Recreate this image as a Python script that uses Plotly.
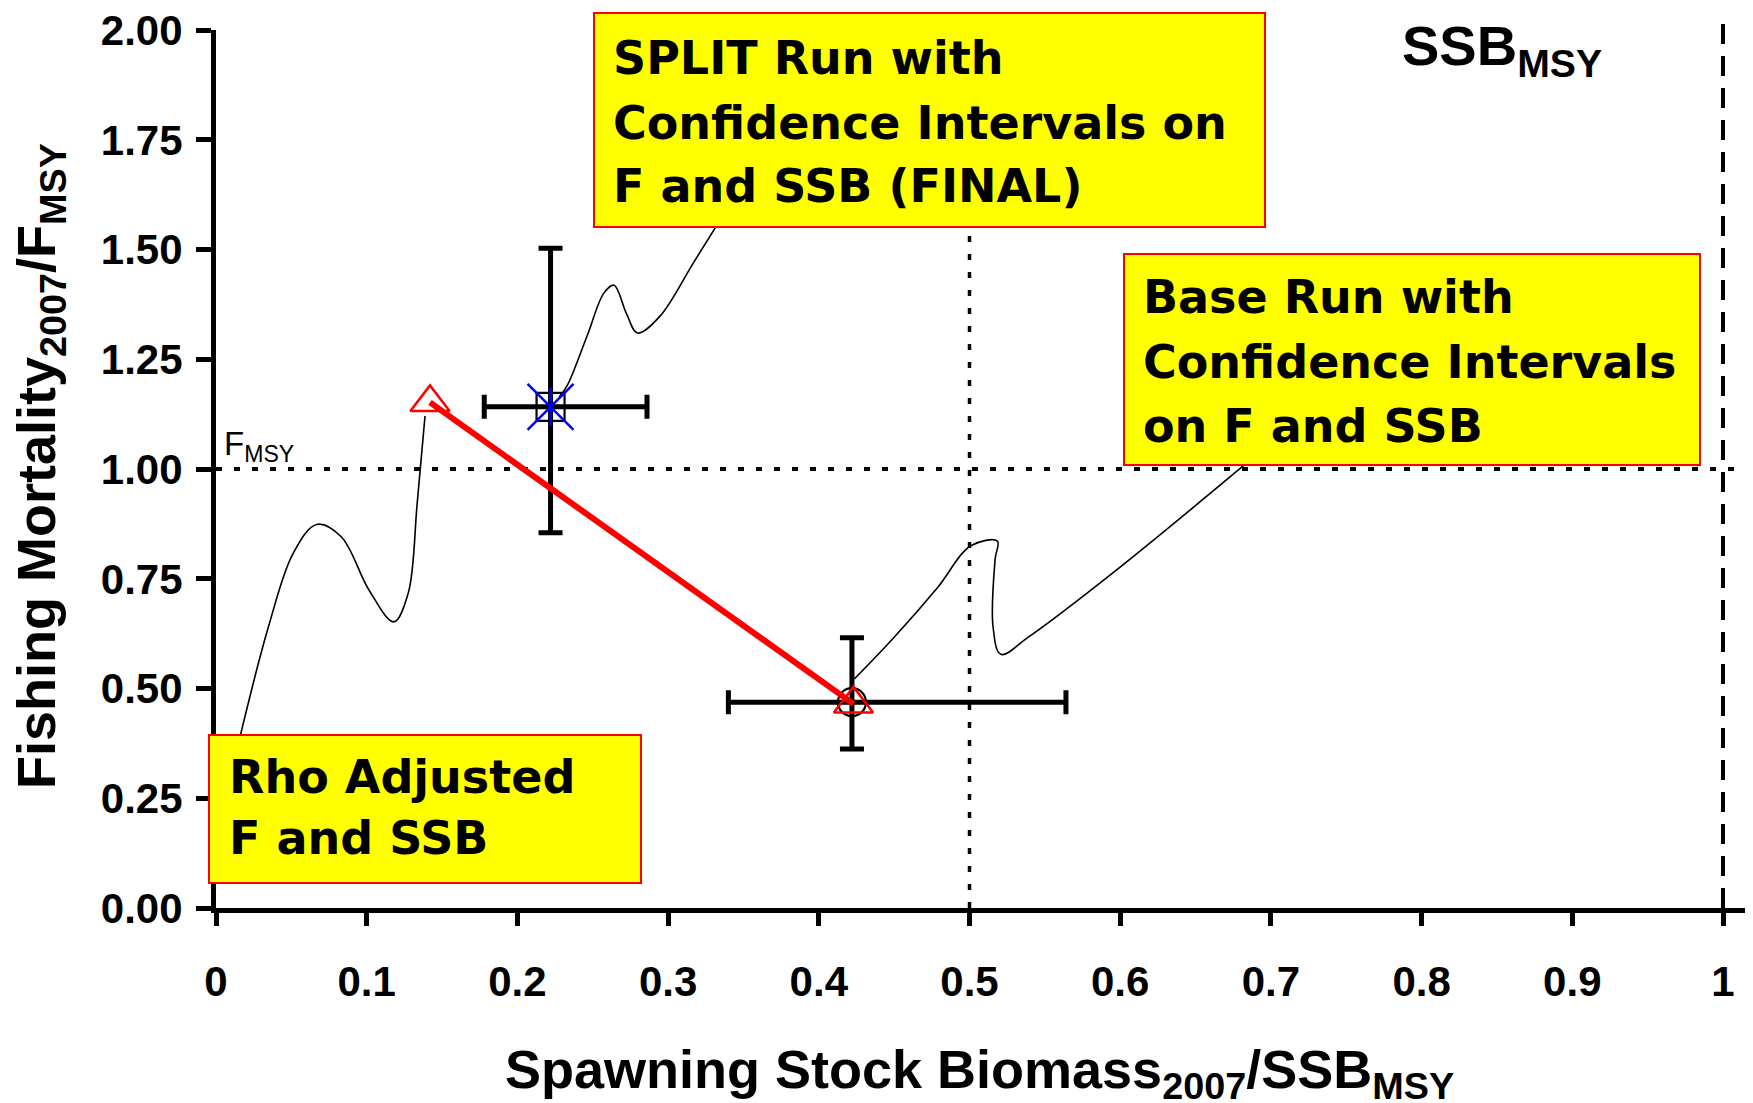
import plotly.graph_objects as go

# ---------------- data ----------------
x_ticks = [0, 0.1, 0.2, 0.3, 0.4, 0.5, 0.6, 0.7, 0.8, 0.9, 1.0]
x_tick_labels = ["0", "0.1", "0.2", "0.3", "0.4", "0.5", "0.6", "0.7", "0.8", "0.9", "1"]
y_ticks = [0, 0.25, 0.5, 0.75, 1.0, 1.25, 1.5, 1.75, 2.0]
y_tick_labels = ["0.00", "0.25", "0.50", "0.75", "1.00", "1.25", "1.50", "1.75", "2.00"]

# Base run with confidence intervals
base_ssb = [0.422]
base_ssb_lo = [0.340]
base_ssb_hi = [0.564]
base_f = [0.469]
base_f_lo = [0.362]
base_f_hi = [0.616]

# SPLIT run with confidence intervals (FINAL)
split_ssb = [0.222]
split_ssb_lo = [0.178]
split_ssb_hi = [0.286]
split_f = [1.142]
split_f_lo = [0.855]
split_f_hi = [1.503]

# Rho adjusted F and SSB
rho_ssb = [0.142, 0.423]
rho_f = [1.152, 0.465]

# reference levels
f_msy_level = 1.0
ssb_half_level = 0.5
ssb_msy_level = 1.0

# hand-drawn callout leader lines (data coordinates)
leader_rho_x = [0.0163, 0.0349, 0.0512, 0.0668, 0.0831, 0.1016, 0.1180, 0.1276, 0.1335, 0.1387]
leader_rho_y = [0.395, 0.642, 0.808, 0.874, 0.846, 0.724, 0.652, 0.718, 0.922, 1.121]
leader_split_x = [0.3353, 0.3168, 0.2945, 0.2797, 0.2723, 0.2641, 0.2574, 0.2463, 0.2330, 0.2277]
leader_split_y = [1.572, 1.470, 1.348, 1.310, 1.355, 1.419, 1.401, 1.304, 1.190, 1.164]
leader_base_x = [0.684, 0.5964, 0.539, 0.5208, 0.5156, 0.517, 0.5185, 0.5007, 0.479, 0.450, 0.4236]
leader_base_y = [1.014, 0.767, 0.617, 0.578, 0.642, 0.795, 0.836, 0.825, 0.731, 0.617, 0.522]

# ---------------- layout geometry ----------------
OFF = 8                      # page body margin
W, H = 1753 - 2 * OFF, 1103 - OFF
ML, MT, MR = 216 - OFF, 30 - OFF, 0
MB = H - (908 - OFF)
PLOT_W = W - ML - MR
PLOT_H = H - MT - MB
X_MAX = PLOT_W / (1723 - 216)
Y_MAX = 2.0005


def px_x(px):
    """screen pixel -> paper x"""
    return (px - OFF - ML) / PLOT_W


def px_y(py):
    """screen pixel -> paper y"""
    return (H - MB - (py - OFF)) / PLOT_H


AX_FONT = "Liberation Sans, Arial, sans-serif"
BOX_FONT = "DejaVu Sans, Comic Sans MS, sans-serif"

fig = go.Figure()

# leader lines
for lx, ly in [(leader_rho_x, leader_rho_y), (leader_split_x, leader_split_y), (leader_base_x, leader_base_y)]:
    fig.add_trace(go.Scatter(x=lx, y=ly, mode="lines",
                             line=dict(color="black", width=1.6, shape="spline", smoothing=1.0),
                             hoverinfo="skip", showlegend=False))

# base run
fig.add_trace(go.Scatter(
    x=base_ssb, y=base_f, mode="markers",
    marker=dict(symbol="circle-open", size=28, color="black", line=dict(width=2.2, color="black")),
    error_x=dict(type="data", symmetric=False,
                 array=[h - v for h, v in zip(base_ssb_hi, base_ssb)],
                 arrayminus=[v - l for l, v in zip(base_ssb_lo, base_ssb)],
                 color="black", thickness=5, width=12),
    error_y=dict(type="data", symmetric=False,
                 array=[h - v for h, v in zip(base_f_hi, base_f)],
                 arrayminus=[v - l for l, v in zip(base_f_lo, base_f)],
                 color="black", thickness=5, width=12),
    showlegend=False))

# split run
fig.add_trace(go.Scatter(
    x=split_ssb, y=split_f, mode="markers",
    marker=dict(symbol="square-open", size=28, color="black", line=dict(width=2.2, color="black")),
    error_x=dict(type="data", symmetric=False,
                 array=[h - v for h, v in zip(split_ssb_hi, split_ssb)],
                 arrayminus=[v - l for l, v in zip(split_ssb_lo, split_ssb)],
                 color="black", thickness=5, width=12),
    error_y=dict(type="data", symmetric=False,
                 array=[h - v for h, v in zip(split_f_hi, split_f)],
                 arrayminus=[v - l for l, v in zip(split_f_lo, split_f)],
                 color="black", thickness=5, width=12),
    showlegend=False))

# rho adjusted line + triangles
fig.add_trace(go.Scatter(x=rho_ssb, y=rho_f, mode="lines",
                         line=dict(color="#FF0000", width=6), showlegend=False))
fig.add_trace(go.Scatter(x=rho_ssb, y=rho_f, mode="markers",
                         marker=dict(symbol="triangle-up-open", size=34, color="#FF0000",
                                     line=dict(width=2.5, color="#FF0000")),
                         showlegend=False))

# split asterisk (blue)
fig.add_trace(go.Scatter(x=split_ssb, y=split_f, mode="markers",
                         marker=dict(symbol="x-thin-open", size=46, color="#0000FF",
                                     line=dict(width=2.5, color="#0000FF")),
                         showlegend=False))
fig.add_trace(go.Scatter(x=split_ssb, y=split_f, mode="markers",
                         marker=dict(symbol="line-ns-open", size=27, color="#0000FF",
                                     line=dict(width=2.5, color="#0000FF")),
                         showlegend=False))

shapes = [
    dict(type="line", xref="x", yref="y", x0=0, x1=X_MAX, y0=f_msy_level, y1=f_msy_level,
         line=dict(color="black", width=4, dash="6px,12px"), layer="below"),
    dict(type="line", xref="x", yref="y", x0=ssb_half_level, x1=ssb_half_level, y0=0, y1=2.0,
         line=dict(color="black", width=3.5, dash="6px,12px"), layer="below"),
    dict(type="line", xref="x", yref="paper", x0=ssb_msy_level, x1=ssb_msy_level, y0=0, y1=px_y(12),
         line=dict(color="black", width=4, dash="20px,12px"), layer="below"),
]

boxes = [(594, 1265, 13, 227), (1124, 1700, 254, 465), (209, 641, 735, 883)]
for bx0, bx1, by0, by1 in boxes:
    shapes.append(dict(type="rect", xref="paper", yref="paper",
                       x0=px_x(bx0), x1=px_x(bx1), y0=px_y(by1), y1=px_y(by0),
                       fillcolor="#FFFF00", line=dict(color="#FF0000", width=2), layer="above"))

annotations = []
box_texts = [
    (611, [58, 123, 186], ["SPLIT Run with", "Confidence Intervals on", "F and SSB (FINAL)"]),
    (1141, [297, 362, 426], ["Base Run with", "Confidence Intervals", "on F and SSB"]),
    (227, [777, 838], ["Rho Adjusted", "F and SSB"]),
]
for left, ys, lines in box_texts:
    for yy, txt in zip(ys, lines):
        annotations.append(dict(text=txt, xref="paper", yref="paper", x=px_x(left), y=px_y(yy),
                                xanchor="left", yanchor="middle", showarrow=False,
                                font=dict(family=BOX_FONT, size=46, color="black", weight="bold")))

annotations += [
    dict(text="F<sub>MSY</sub>", xref="paper", yref="paper", x=px_x(222), y=px_y(446),
         xanchor="left", yanchor="middle", showarrow=False,
         font=dict(family=AX_FONT, size=33, color="black")),
    dict(text="SSB<sub>MSY</sub>", xref="paper", yref="paper", x=px_x(1502), y=px_y(50),
         xanchor="center", yanchor="middle", showarrow=False,
         font=dict(family=AX_FONT, size=56, color="black", weight="bold")),
    dict(text="Spawning Stock Biomass<sub>2007</sub>/SSB<sub>MSY</sub>", xref="paper", yref="paper",
         x=px_x(979), y=px_y(1073), xanchor="center", yanchor="middle", showarrow=False,
         font=dict(family=AX_FONT, size=54, color="black", weight="bold")),
    dict(text="Fishing Mortality<sub>2007</sub>/F<sub>MSY</sub>", xref="paper", yref="paper",
         x=px_x(40), y=px_y(466), xanchor="center", yanchor="middle", showarrow=False, textangle=-90,
         font=dict(family=AX_FONT, size=54, color="black", weight="bold")),
]

fig.update_layout(
    width=W, height=H,
    margin=dict(l=ML, r=MR, t=MT, b=MB, pad=0),
    paper_bgcolor="white", plot_bgcolor="white",
    showlegend=False,
    shapes=shapes, annotations=annotations,
    xaxis=dict(range=[0, X_MAX], tickvals=x_ticks, ticktext=x_tick_labels,
               ticks="outside", ticklen=13, tickwidth=5, tickcolor="black",
               showline=True, linewidth=5, linecolor="black",
               showgrid=False, zeroline=False, ticklabelstandoff=20,
               ticklabeloverflow="allow",
               tickfont=dict(family=AX_FONT, size=42, color="black", weight="bold")),
    yaxis=dict(range=[0, Y_MAX], tickvals=y_ticks, ticktext=y_tick_labels,
               ticks="outside", ticklen=15, tickwidth=5, tickcolor="black",
               showline=True, linewidth=5, linecolor="black",
               showgrid=False, zeroline=False, ticklabelstandoff=5,
               ticklabeloverflow="allow",
               tickfont=dict(family=AX_FONT, size=42, color="black", weight="bold")),
)

fig.write_html("out.html")
